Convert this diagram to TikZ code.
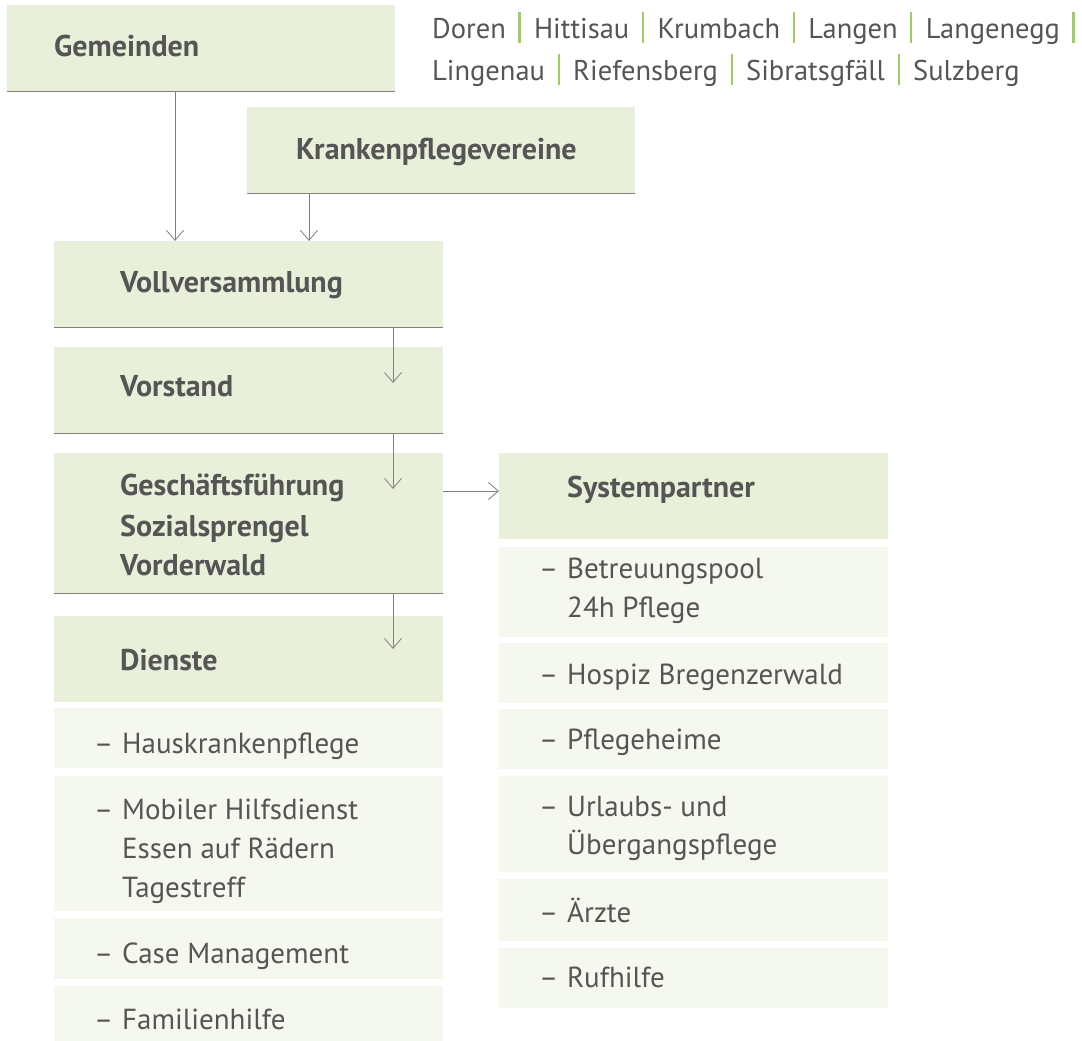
\documentclass[tikz,border=0pt]{standalone}
\usepackage{fontspec}
\setmainfont{PT Sans}
\usetikzlibrary{arrows.meta}
\definecolor{hdrfill}{RGB}{232,240,218}
\definecolor{itemfill}{RGB}{245,248,239}
\definecolor{txtc}{RGB}{85,85,85}
\definecolor{linec}{RGB}{128,128,128}
\definecolor{sepc}{RGB}{160,205,95}
\newcommand{\townsep}{\hspace{12.5pt}{\color{sepc}\rule[-4pt]{2.2pt}{31pt}}\hspace{13.5pt}}
\newcommand{\itemdash}{\llap{–\hspace{9pt}}}
\begin{document}
\begin{tikzpicture}[x=1pt,y=-1pt,
  hdr/.style={fill=hdrfill, draw=none, anchor=north west, inner sep=0pt, minimum width=389pt},
  itembox/.style={fill=itemfill, draw=none, anchor=north west, inner sep=0pt, minimum width=389pt},
  htext/.style={anchor=base west, inner sep=0pt, font=\fontsize{30}{40}\selectfont\bfseries, text=txtc},
  itext/.style={anchor=base west, inner sep=0pt, font=\fontsize{29}{39}\selectfont, text=txtc},
  ttext/.style={anchor=base west, inner sep=0pt, font=\fontsize{28.5}{39}\selectfont, text=txtc},
  bline/.style={draw=linec, line width=1.5pt},
  arr/.style={draw=linec, line width=0.8pt, -{Straight Barb[length=10pt,width=17pt,line width=0.8pt]}},
]
\useasboundingbox (0,0) rectangle (1082,1041);
\fill[white] (0,0) rectangle (1082,1041);

% header boxes
\node[hdr, minimum width=388pt, minimum height=86pt] (gem) at (7,5) {};
\node[hdr, minimum width=388pt, minimum height=86pt] (kpv) at (247,107) {};
\node[hdr, minimum height=86pt] (voll) at (54,241) {};
\node[hdr, minimum height=86pt] (vor) at (54,347) {};
\node[hdr, minimum height=140pt] (gf) at (54,453) {};
\node[hdr, minimum height=86pt] (dien) at (54,616) {};
\node[hdr, minimum height=86pt] (sys) at (499,453) {};

% item boxes (Dienste)
\node[itembox, minimum height=60pt] (d1) at (54,708) {};
\node[itembox, minimum height=135pt] (d2) at (54,776) {};
\node[itembox, minimum height=61pt] (d3) at (54,918) {};
\node[itembox, minimum height=55pt] (d4) at (54,986) {};

% item boxes (Systempartner)
\node[itembox, minimum height=90pt] (s1) at (499,547) {};
\node[itembox, minimum height=60pt] (s2) at (499,643) {};
\node[itembox, minimum height=60pt] (s3) at (499,709) {};
\node[itembox, minimum height=96pt] (s4) at (499,776) {};
\node[itembox, minimum height=62pt] (s5) at (499,879) {};
\node[itembox, minimum height=60pt] (s6) at (499,948) {};

% bottom rules
\foreach \b in {gem,kpv,voll,vor,gf}
  \draw[bline] (\b.south west) -- (\b.south east);

% header texts
\node[htext] (gemT) at (54,57) {Gemeinden};
\node[htext] (kpvT) at (296,159) {Krankenpflegevereine};
\node[htext] (vollT) at (120,292) {Vollversammlung};
\node[htext] (vorT) at (120,396) {Vorstand};
\node[htext] (gfT1) at (120,495) {Geschäftsführung};
\node[htext] (gfT2) at (120,536) {Sozialsprengel};
\node[htext] (gfT3) at (120,575) {Vorderwald};
\node[htext] (dienT) at (120,670) {Dienste};
\node[htext] (sysT) at (567,497) {Systempartner};

% Dienste items
\node[itext] (d1T) at (122,753) {\itemdash Hauskrankenpflege};
\node[itext] (d2T1) at (122,819) {\itemdash Mobiler Hilfsdienst};
\node[itext] (d2T2) at (122,858) {Essen auf Rädern};
\node[itext] (d2T3) at (122,897) {Tagestreff};
\node[itext] (d3T) at (122,963) {\itemdash Case Management};
\node[itext] (d4T) at (122,1029) {\itemdash Familienhilfe};

% Systempartner items
\node[itext] (s1T1) at (567,578) {\itemdash Betreuungspool};
\node[itext] (s1T2) at (567,617) {24h Pflege};
\node[itext] (s2T) at (567,684) {\itemdash Hospiz Bregenzerwald};
\node[itext] (s3T) at (567,749) {\itemdash Pflegeheime};
\node[itext] (s4T1) at (567,816) {\itemdash Urlaubs- und};
\node[itext] (s4T2) at (567,854) {Übergangspflege};
\node[itext] (s5T) at (567,922) {\itemdash Ärzte};
\node[itext] (s6T) at (567,987) {\itemdash Rufhilfe};

% municipalities
\node[ttext] (towns1) at (432,39) {Doren\townsep Hittisau\townsep Krumbach\townsep Langen\townsep Langenegg\townsep};
\node[ttext] (towns2) at (432,81) {Lingenau\townsep Riefensberg\townsep Sibratsgfäll\townsep Sulzberg};

% connectors
\draw[arr] ([xshift=168pt]gem.south west) -- ([xshift=121pt]voll.north west);
\draw[arr] ([xshift=62pt]kpv.south west) -- ([xshift=255pt]voll.north west);
\draw[arr] ([xshift=339pt]voll.south west) -- ([xshift=339pt,yshift=-36pt]vor.north west);
\draw[arr] ([xshift=339pt]vor.south west) -- ([xshift=339pt,yshift=-36pt]gf.north west);
\draw[arr] ([xshift=339pt]gf.south west) -- ([xshift=339pt,yshift=-33pt]dien.north west);
\draw[arr] ([yshift=-38pt]gf.north east) -- ([yshift=-38pt]sys.north west);
\end{tikzpicture}
\end{document}
